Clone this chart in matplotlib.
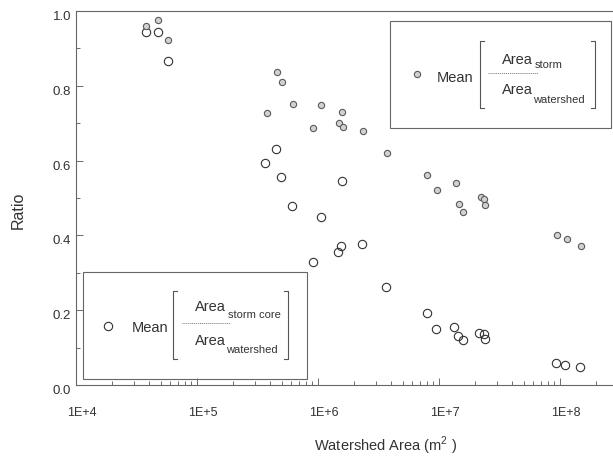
import matplotlib
matplotlib.use("Agg")
import matplotlib.pyplot as plt
import matplotlib.transforms as mtransforms
from matplotlib.lines import Line2D
from matplotlib.patches import Rectangle
from matplotlib.ticker import LogLocator, NullFormatter, MultipleLocator

plt.rcParams["font.family"] = ["Liberation Sans", "DejaVu Sans"]
plt.rcParams["mathtext.fontset"] = "custom"
plt.rcParams["mathtext.rm"] = "Liberation Sans"

# mean(area_storm / area_watershed)
storm_area = [4.79e4, 3.77e4, 5.73e4, 4.56e5, 5.01e5, 6.18e5, 3.81e5, 1.06e6,
              1.57e6, 1.49e6, 1.62e6, 9.15e5, 2.35e6, 3.70e6, 8.00e6, 9.57e6,
              1.37e7, 1.47e7, 1.59e7, 2.21e7, 2.35e7, 2.41e7, 9.40e7, 1.14e8,
              1.49e8]
storm_ratio = [0.976, 0.961, 0.923, 0.836, 0.811, 0.752, 0.726, 0.749,
               0.731, 0.700, 0.691, 0.686, 0.678, 0.620, 0.561, 0.522,
               0.541, 0.485, 0.463, 0.503, 0.497, 0.482, 0.401, 0.390,
               0.372]

# mean(area_storm_core / area_watershed)
core_area = [3.77e4, 4.73e4, 5.73e4, 4.50e5, 3.67e5, 4.92e5, 1.57e6, 6.13e5,
             1.06e6, 1.54e6, 1.47e6, 2.32e6, 9.15e5, 3.63e6, 7.91e6, 9.40e6,
             1.34e7, 1.44e7, 1.57e7, 2.15e7, 2.35e7, 2.40e7, 9.27e7, 1.11e8,
             1.46e8]
core_ratio = [0.945, 0.945, 0.867, 0.630, 0.593, 0.555, 0.545, 0.479,
              0.449, 0.372, 0.355, 0.377, 0.329, 0.263, 0.192, 0.149,
              0.156, 0.132, 0.120, 0.138, 0.136, 0.123, 0.060, 0.053,
              0.048]

x_ticks = [1e4, 1e5, 1e6, 1e7, 1e8]
x_labels = ["1E+4", "1E+5", "1E+6", "1E+7", "1E+8"]
y_ticks = [0.0, 0.2, 0.4, 0.6, 0.8, 1.0]
y_labels = ["0.0", "0.2", "0.4", "0.6", "0.8", "1.0"]

W, H = 613, 463
TXT = "#333333"
EDGE = "#555555"
STORM_KW = dict(ms=4.5, mfc="#d2d2d2", mec="#5a5a5a", mew=0.8)
CORE_KW = dict(ms=6, mfc="none", mec="#333333", mew=0.8)


def fx(px):
    return px / W


def fy(py):
    return 1 - py / H


fig = plt.figure(figsize=(W / 100, H / 100), dpi=100)
ax = fig.add_axes([fx(76), fy(385), 1 - fx(76), (385 - 11) / H])

ax.plot(core_area, core_ratio, "o", ls="none", **CORE_KW)
ax.plot(storm_area, storm_ratio, "o", ls="none", **STORM_KW)

ax.set_xscale("log")
ax.set_xlim(1e4, 10 ** (4 + 537 / 121))
ax.set_ylim(0, 1.0)

ax.set_xticks(x_ticks)
ax.xaxis.set_minor_locator(LogLocator(base=10, subs=range(2, 10)))
ax.xaxis.set_minor_formatter(NullFormatter())
ax.set_yticks(y_ticks)
ax.yaxis.set_minor_locator(MultipleLocator(0.1))
ax.tick_params(which="both", direction="in", labelbottom=False,
               labelleft=False, color=EDGE, width=0.6)
ax.tick_params(which="major", length=5)
ax.tick_params(which="minor", length=3)

ax.spines["right"].set_visible(False)
for s in ("left", "bottom", "top"):
    ax.spines[s].set_color("#666666")
    ax.spines[s].set_linewidth(0.8)

# tick labels sit a little right/below their ticks, as in the original
xoff = mtransforms.ScaledTranslation(6 / 100, -28 / 100, fig.dpi_scale_trans)
xtr = mtransforms.blended_transform_factory(ax.transData, ax.transAxes) + xoff
for xv, lab in zip(x_ticks, x_labels):
    ax.text(xv, 0, lab, transform=xtr, ha="center", va="center",
            fontsize=9, color=TXT)

yoff = mtransforms.ScaledTranslation(-5 / 100, -6 / 100, fig.dpi_scale_trans)
ytr = mtransforms.blended_transform_factory(ax.transAxes, ax.transData) + yoff
for yv, lab in zip(y_ticks, y_labels):
    ax.text(0, yv, lab, transform=ytr, ha="right", va="center",
            fontsize=9.5, color=TXT)

fig.text(fx(386), fy(446), "Watershed Area (m$^{2}$ )", ha="center",
         va="center", fontsize=10.5, color=TXT)
fig.text(fx(18), fy(210), "Ratio", rotation=90, ha="center", va="center",
         fontsize=11.5, color=TXT)


def legend_box(x0, y0, x1, y1, mx, my, marker_kw, mean_x, mean_base,
               br_l, br_r, br_top, br_bot, num_x, num_base, sub_x,
               sub_base, sub_text, line_x0, line_x1, line_y, den_base,
               wsub_base):
    fig.add_artist(Rectangle((fx(x0), fy(y1)), fx(x1) - fx(x0),
                             fy(y0) - fy(y1), fill=False, ec="#666666",
                             lw=0.8, transform=fig.transFigure))
    fig.add_artist(Line2D([fx(mx)], [fy(my)], marker="o", ls="none",
                          transform=fig.transFigure, **marker_kw))
    fig.text(fx(mean_x), fy(mean_base), "Mean", fontsize=10.5, color=TXT,
             va="baseline")
    for bx, d in ((br_l, 4), (br_r, -4)):
        fig.add_artist(Line2D([fx(bx + d), fx(bx), fx(bx), fx(bx + d)],
                              [fy(br_top), fy(br_top), fy(br_bot), fy(br_bot)],
                              color="#555555", lw=0.8,
                              transform=fig.transFigure))
    fig.text(fx(num_x), fy(num_base), "Area", fontsize=10.5, color=TXT,
             va="baseline")
    fig.text(fx(sub_x), fy(sub_base), sub_text, fontsize=8, color=TXT,
             va="baseline")
    fig.add_artist(Line2D([fx(line_x0), fx(line_x1)], [fy(line_y)] * 2,
                          color="#777777", lw=0.7, ls=(0, (1, 1)),
                          transform=fig.transFigure))
    fig.text(fx(num_x), fy(den_base), "Area", fontsize=10.5, color=TXT,
             va="baseline")
    fig.text(fx(sub_x - 2), fy(wsub_base), "watershed", fontsize=8,
             color=TXT, va="baseline")


legend_box(390, 21, 611, 128, 416.7, 74.3, STORM_KW,
           436.7, 81.7, 480, 595, 40.7, 107.5, 501.7, 64, 535, 67.5,
           "storm", 488, 538, 72.7, 94, 102.7)

legend_box(82.7, 271.7, 307.3, 379, 108.3, 325.7, CORE_KW,
           131.7, 331.7, 173.3, 288.3, 291, 359, 195, 311, 227.7, 318.3,
           "storm core", 181.7, 230, 322.7, 345, 352.7)

fig.savefig("out.png", dpi=100)
